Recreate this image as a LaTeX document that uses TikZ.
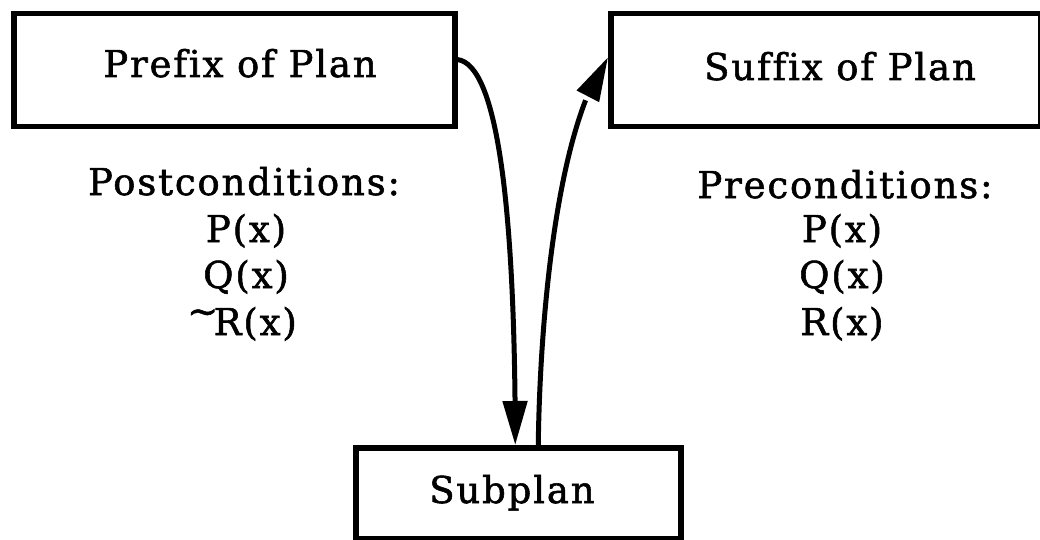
\documentclass[tikz,border=0pt]{standalone}
\usepackage{fontspec}
\setmainfont{DejaVu Serif}[LetterSpace=5, Ligatures=NoCommon, FakeBold=1.5]
\usetikzlibrary{arrows.meta,bending,calc}
\newcommand{\negsign}{\raisebox{0.3em}{\textasciitilde}\kern-0.12em}
\begin{document}
\begin{tikzpicture}[x=1pt,y=-1pt,
  box/.style={draw, line width=5.5pt, rectangle, inner sep=0pt, anchor=north west},
  lbl/.style={anchor=base, inner sep=0pt, font=\fontsize{37}{44}\selectfont},
  flow/.style={line width=5pt, -{Triangle[length=44pt,width=24pt]}}]
\useasboundingbox (0,0) rectangle (1040,540);

% the three plan pieces
\node[box, minimum width=441pt, minimum height=113pt] (pre) at (11,11) {};
\node[box, minimum width=430pt, minimum height=113pt] (suf) at (608,11) {};
\node[box, minimum width=325pt, minimum height=91pt] (sub) at (353,445) {};

% box titles
\node[lbl] (pretxt) at (240,77) {Prefix of Plan};
\node[lbl] (suftxt) at (840,80) {Suffix of Plan};
\node[lbl] (subtxt) at (512,503) {Subplan};

% conditions under the prefix
\node[lbl] (posthead) at (244,195) {Postconditions:};
\node[lbl] (postp) at (246,242) {P(x)};
\node[lbl] (postq) at (246,288) {Q(x)};
\node[lbl] (postr) at (242,335) {\negsign R(x)};

% conditions under the suffix
\node[lbl] (prehead) at (845,198) {Preconditions:};
\node[lbl] (prep) at (842,242) {P(x)};
\node[lbl] (preq) at (842,288) {Q(x)};
\node[lbl] (prer) at (842,335) {R(x)};

% control passes into the subplan and back out
\draw[flow] ($(pre.north east)!0.41!(pre.south east)$)
  .. controls +(43,5) and +(0,-215) .. ([xshift=-3pt]sub.north);
\draw[flow] ([xshift=20pt]sub.north)
  .. controls +(2,-145) and +(-48,65) .. ($(suf.north west)!0.39!(suf.south west)$);
\end{tikzpicture}
\end{document}
